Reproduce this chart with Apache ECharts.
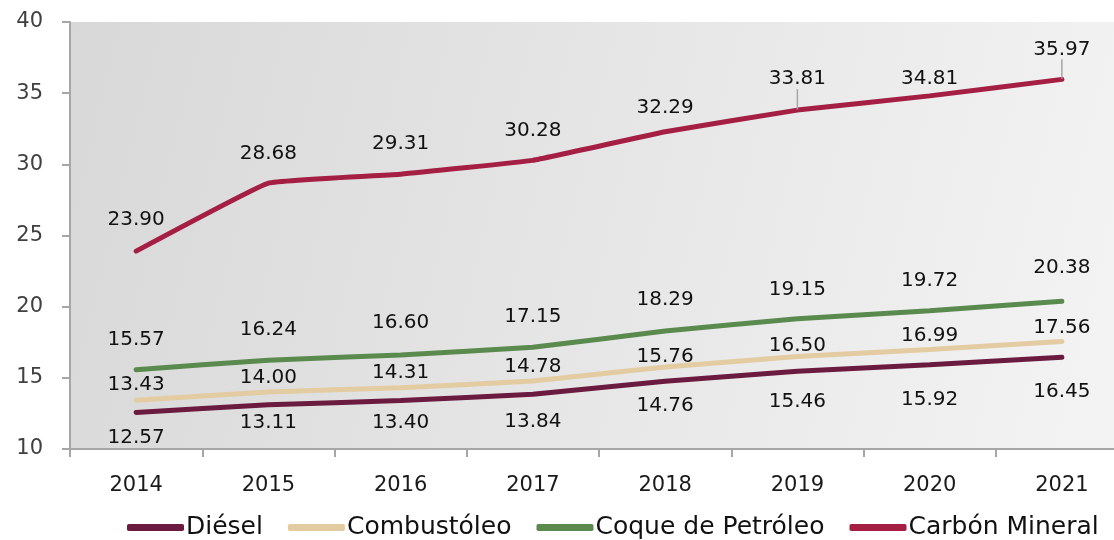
<!DOCTYPE html>
<html>
<head>
<meta charset="utf-8">
<script src="https://cdn.jsdelivr.net/npm/echarts@6/dist/echarts.min.js"></script>
<style>
html,body{margin:0;padding:0;background:#fff;overflow:hidden;width:1114px;height:540px;}
#chart{width:1128px;height:540px;}
</style>
</head>
<body>
<div id="chart"></div>
<script>
const categories = ['2014', '2015', '2016', '2017', '2018', '2019', '2020', '2021'];
const seriesNames = ['Diésel', 'Combustóleo', 'Coque de Petróleo', 'Carbón Mineral'];
const diesel = [12.57, 13.11, 13.40, 13.84, 14.76, 15.46, 15.92, 16.45];
const combustoleo = [13.43, 14.00, 14.31, 14.78, 15.76, 16.50, 16.99, 17.56];
const coque = [15.57, 16.24, 16.60, 17.15, 18.29, 19.15, 19.72, 20.38];
const carbon = [23.90, 28.68, 29.31, 30.28, 32.29, 33.81, 34.81, 35.97];

// label placement (vertical offset of each label centre from its point, px)
const labelDy = [
  [25, 18, 22, 27, 25, 31, 35, 35],
  [-15, -14, -15, -14, -10, -11, -14, -14],
  [-30, -30, -32, -30, -31, -29, -30, -33],
  [-31, -29, -30, -30, -24, -31, -17, -30]
];
const leaderIdx = [[], [], [], [5, 7]];
const colors = ['#6b1a40', '#e3cca2', '#5a8a4e', '#a51f45'];
const FONT = 'DejaVu Sans';

const values = [diesel, combustoleo, coque, carbon];

const chart = echarts.init(document.getElementById('chart'), null, {renderer: 'canvas'});

const series = values.map((vals, s) => ({
  name: seriesNames[s],
  type: 'line',
  smooth: 0.08,
  symbol: 'circle',
  symbolSize: 1,
  z: 2 + s,
  lineStyle: {color: colors[s], width: 5, cap: 'round'},
  itemStyle: {color: colors[s]},
  label: {
    show: true,
    position: 'inside',
    fontFamily: FONT,
    fontSize: 20,
    color: '#111',
    formatter: p => p.value.toFixed(2)
  },
  labelLine: {show: false},
  data: vals.map((v, i) => {
    const item = {value: v, label: {offset: [0, labelDy[s][i]]}};
    if (leaderIdx[s].indexOf(i) >= 0) {
      item.labelLine = {show: true, smooth: false, lineStyle: {color: '#a6a6a6', width: 1.5}};
    }
    return item;
  })
}));

chart.setOption({
  backgroundColor: '#ffffff',
  animation: false,
  grid: {
    left: 70, right: 0, top: 22, bottom: 91,
    show: true,
    borderWidth: 0,
    backgroundColor: {
      type: 'linear', x: 0, y: 0, x2: 1, y2: 0.6,
      colorStops: [{offset: 0, color: '#d8d8d8'}, {offset: 1, color: '#f3f3f3'}]
    }
  },
  legend: {
    left: 122, top: 510,
    itemWidth: 57, itemHeight: 7, itemGap: 25,
    icon: 'roundRect',
    textStyle: {fontFamily: FONT, fontSize: 25, color: '#111', padding: [0, 0, 0, -3]},
    data: seriesNames
  },
  xAxis: {
    type: 'category',
    data: categories,
    boundaryGap: true,
    axisLine: {lineStyle: {color: '#a6a6a6', width: 2}},
    axisTick: {show: true, length: 8, lineStyle: {color: '#a6a6a6', width: 2}},
    axisLabel: {fontFamily: FONT, fontSize: 21, color: '#1a1a1a', margin: 26}
  },
  yAxis: {
    type: 'value',
    min: 10, max: 40, interval: 5,
    splitLine: {show: false},
    axisLine: {show: true, lineStyle: {color: '#a6a6a6', width: 2}},
    axisTick: {show: true, length: 8, lineStyle: {color: '#a6a6a6', width: 2}},
    axisLabel: {fontFamily: FONT, fontSize: 21, color: '#404040', margin: 27}
  },
  series: series
});
</script>
</body>
</html>
